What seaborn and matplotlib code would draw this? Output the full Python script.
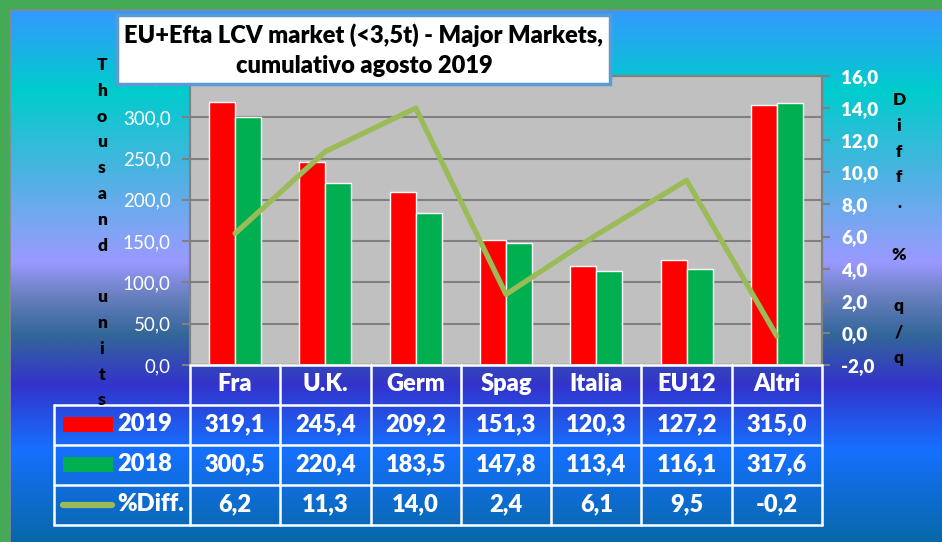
import numpy as np
import pandas as pd
import seaborn as sns
import matplotlib
matplotlib.use("Agg")
import matplotlib.pyplot as plt
from matplotlib.colors import to_rgb
from matplotlib.patches import Rectangle
from matplotlib.lines import Line2D
from matplotlib.transforms import blended_transform_factory

# ---------------- data ----------------
markets = ["Fra", "U.K.", "Germ", "Spag", "Italia", "EU12", "Altri"]
v2019 = [319.1, 245.4, 209.2, 151.3, 120.3, 127.2, 315.0]
v2018 = [300.5, 220.4, 183.5, 147.8, 113.4, 116.1, 317.6]
diff = [6.2, 11.3, 14.0, 2.4, 6.1, 9.5, -0.2]
series_labels = ["2019", "2018", "%Diff."]
title_lines = ["EU+Efta LCV market (<3,5t) - Major Markets,", "cumulativo agosto 2019"]
left_label = "Thousand units"
right_label = "Diff. % q/q"
left_ticks = [0, 50, 100, 150, 200, 250, 300, 350]
right_ticks = [-2, 0, 2, 4, 6, 8, 10, 12, 14, 16]

RED, GREEN, OLIVE = "#FF0000", "#00B050", "#9BBB59"

W, H = 942, 542
sns.set_theme(style="white")
plt.rcParams["font.family"] = ["Lato", "DejaVu Sans"]

def fx(px):
    return px / W

def fy(py):
    return 1 - py / H

def fmt(v):
    return f"{v:.1f}".replace(".", ",")

fig = plt.figure(figsize=(W / 100, H / 100), dpi=100, facecolor="#44AA55")

# ---------------- gradient background ----------------
stops = [(10, "#3399FF"), (90, "#00CCCC"), (170, "#48B4E0"), (230, "#80A4F5"),
         (262, "#9999FF"), (295, "#6A80C0"), (335, "#336699"), (385, "#3333CC"),
         (450, "#1570FF"), (542, "#0868A8")]
ys = np.arange(10, 543)
sp = np.array([s[0] for s in stops], dtype=float)
cols = np.array([to_rgb(s[1]) for s in stops])
grad = np.stack([np.interp(ys, sp, cols[:, k]) for k in range(3)], axis=1)[:, None, :]
bg = fig.add_axes([fx(10), 0, 1 - fx(10), fy(10)])
bg.imshow(grad, aspect="auto", extent=[0, 1, 0, 1], interpolation="bilinear")
bg.set_axis_off()
fig.add_artist(Line2D([fx(10), fx(10)], [0, fy(10)], color="#888888", lw=1.2))
fig.add_artist(Line2D([fx(10), 1], [fy(10), fy(10)], color="#888888", lw=1.2))

# ---------------- main axes ----------------
ax = fig.add_axes([fx(190), fy(365), fx(822 - 190), (365 - 76) / H], facecolor="#C0C0C0")
df = pd.DataFrame({
    "market": markets * 2,
    "year": ["2019"] * len(markets) + ["2018"] * len(markets),
    "value": v2019 + v2018,
})
sns.barplot(data=df, x="market", y="value", hue="year", hue_order=["2019", "2018"],
            palette={"2019": RED, "2018": GREEN}, width=0.575, saturation=1,
            ax=ax, legend=False, zorder=2)
ax.set_xlim(-0.5, len(markets) - 0.5)
ax.set_ylim(0, 350)
ax.set_yticks(left_ticks)
ax.set_yticklabels([fmt(v) for v in left_ticks])
ax.yaxis.grid(True, color="#808080", lw=1.5, zorder=1)
ax.set_axisbelow(True)
ax.set_xlabel("")
ax.set_ylabel("")
ax.tick_params(axis="x", bottom=False, labelbottom=False)
ax.tick_params(axis="y", left=True, direction="out", length=6, width=1.5, color="#808080",
               labelcolor="white", labelsize=13.5, pad=8)
for s in ax.spines.values():
    s.set_color("#808080")
    s.set_linewidth(1.5)

ax2 = ax.twinx()
sns.lineplot(x=markets, y=diff, ax=ax2, color=OLIVE, lw=3.8, sort=False, zorder=3)
ax2.set_ylim(-2, 16)
ax2.set_yticks(right_ticks)
ax2.set_yticklabels([fmt(v) for v in right_ticks])
ax2.set_xlabel("")
ax2.set_ylabel("")
ax2.tick_params(axis="y", right=True, direction="out", length=6, width=1.5, color="#808080",
                labelcolor="white", labelsize=13.5, pad=8)
for lab in ax2.get_yticklabels():
    lab.set_fontweight("heavy")
for s in ax2.spines.values():
    s.set_color("#808080")
    s.set_linewidth(1.5)

# ---------------- axis letters ----------------
for i, ch in enumerate(left_label):
    fig.text(fx(102), fy(65 + i * 25.8), ch, ha="center", va="center",
             fontsize=12.5, fontweight="heavy", color="black")
for i, ch in enumerate(right_label):
    fig.text(fx(899), fy(100 + i * 25.8), ch, ha="center", va="center",
             fontsize=12.5, fontweight="heavy", color="black")

# ---------------- data table ----------------
tr = blended_transform_factory(ax.transData, fig.transFigure)
row_tops = [365, 405, 445, 485, 525]
lw_tab = 1.8
for k in range(len(markets) + 1):
    x = k - 0.5
    fig.add_artist(Line2D([x, x], [fy(365), fy(525)], transform=tr, color="white", lw=lw_tab))
fig.add_artist(Line2D([fx(54), fx(54)], [fy(405), fy(525)], color="white", lw=lw_tab))
fig.add_artist(Line2D([fx(190), fx(822)], [fy(365), fy(365)], color="white", lw=lw_tab))
for yy in row_tops[1:]:
    fig.add_artist(Line2D([fx(54), fx(822)], [fy(yy), fy(yy)], color="white", lw=lw_tab))

rows = [v2019, v2018, diff]
for i, m in enumerate(markets):
    fig.text(i, fy(384), m, transform=tr, ha="center", va="center",
             fontsize=17, fontweight="heavy", color="white")
    for r, vals in enumerate(rows):
        fig.text(i, fy(424 + 40 * r), fmt(vals[i]), transform=tr, ha="center", va="center",
                 fontsize=17, fontweight="heavy", color="white")

# legend keys
fig.add_artist(Rectangle((fx(63), fy(432)), fx(50), 15 / H, facecolor=RED, edgecolor="none"))
fig.add_artist(Rectangle((fx(63), fy(472)), fx(50), 15 / H, facecolor=GREEN, edgecolor="none"))
fig.add_artist(Line2D([fx(63), fx(112)], [fy(505), fy(505)], color=OLIVE, lw=4.5,
                      solid_capstyle="round"))
for r, lab in enumerate(series_labels):
    fig.text(fx(117), fy(424 + 40 * r), lab, ha="left", va="center",
             fontsize=17, fontweight="heavy", color="white")

# ---------------- title box ----------------
fig.add_artist(Rectangle((fx(117), fy(84)), fx(610 - 117), (84 - 15) / H,
                         facecolor="white", edgecolor="#5B9BD5", lw=2.5, zorder=10))
fig.text(fx(364), fy(35), title_lines[0], ha="center", va="center", fontsize=17,
         fontweight="heavy", color="black", zorder=11)
fig.text(fx(364), fy(66), title_lines[1], ha="center", va="center", fontsize=17,
         fontweight="heavy", color="black", zorder=11)

fig.savefig("out.png", dpi=100, facecolor=fig.get_facecolor())
